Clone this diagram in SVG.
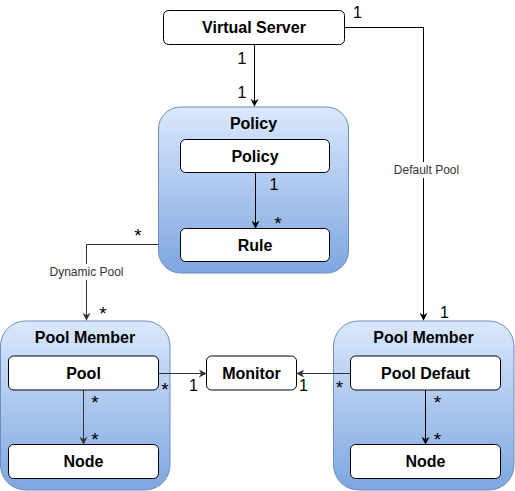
<svg xmlns="http://www.w3.org/2000/svg" width="515" height="491" viewBox="0 0 515 491">
<defs>
<linearGradient id="blue" x1="0" y1="0" x2="0" y2="1">
<stop offset="0" stop-color="#dae8fc"/>
<stop offset="1" stop-color="#7ea6e0"/>
</linearGradient>
<marker id="arrB" viewBox="0 0 10 10" refX="9" refY="5" markerWidth="8" markerHeight="8" markerUnits="userSpaceOnUse" orient="auto">
<path d="M0,0 L10,5 L0,10 L3,5 z" fill="#000"/>
</marker>
<marker id="arrG" viewBox="0 0 10 10" refX="9" refY="5" markerWidth="8" markerHeight="8" markerUnits="userSpaceOnUse" orient="auto">
<path d="M0,0 L10,5 L0,10 L3,5 z" fill="#333"/>
</marker>
</defs>
<style>
.cont{fill:url(#blue);stroke:#6c8ebf;stroke-width:1}
.box{fill:#fff;stroke:#000;stroke-width:1}
.t{font-family:"Liberation Sans",Arial,sans-serif;font-size:16px;font-weight:bold;fill:#000;text-anchor:middle;dominant-baseline:central}
.m{font-family:"Liberation Sans",Arial,sans-serif;font-size:16px;fill:#000;text-anchor:middle}
.s{font-family:"Liberation Sans",Arial,sans-serif;font-size:19px;fill:#000;text-anchor:middle}
.lbl{font-family:"Liberation Sans",Arial,sans-serif;font-size:12px;fill:#333;text-anchor:middle;dominant-baseline:central}
.lk{fill:none;stroke:#000;stroke-width:1}
.lg{fill:none;stroke:#333;stroke-width:1}
</style>
<g id="virtual-server">
<rect class="box" x="163.5" y="10.5" width="181" height="34" rx="5"/>
<text class="t" x="254" y="27.5">Virtual Server</text>
</g>
<g id="policy-container">
<rect class="cont" x="158.5" y="107" width="190" height="166" rx="22"/>
<text class="t" x="253.5" y="123.5">Policy</text>
</g>
<g id="policy">
<rect class="box" x="180.5" y="139.5" width="149" height="33" rx="5"/>
<text class="t" x="255" y="156">Policy</text>
</g>
<g id="rule">
<rect class="box" x="180.5" y="228.5" width="149" height="33" rx="5"/>
<text class="t" x="255" y="245">Rule</text>
</g>
<g id="pool-member-left">
<rect class="cont" x="0.5" y="321" width="169.5" height="169" rx="25"/>
<text class="t" x="85" y="337">Pool Member</text>
</g>
<g id="pool">
<rect class="box" x="8.5" y="356" width="150" height="34" rx="5"/>
<text class="t" x="83.5" y="373">Pool</text>
</g>
<g id="node-left">
<rect class="box" x="8.5" y="444.5" width="150" height="34" rx="5"/>
<text class="t" x="83.5" y="461.5">Node</text>
</g>
<g id="monitor">
<rect class="box" x="206.5" y="356" width="90" height="34" rx="5"/>
<text class="t" x="251.5" y="373">Monitor</text>
</g>
<g id="pool-member-right">
<rect class="cont" x="333.5" y="321" width="180.5" height="169" rx="25"/>
<text class="t" x="423.5" y="337">Pool Member</text>
</g>
<g id="pool-defaut">
<rect class="box" x="350.5" y="356" width="150" height="34" rx="5"/>
<text class="t" x="425.5" y="373">Pool Defaut</text>
</g>
<g id="node-right">
<rect class="box" x="350.5" y="444.5" width="150" height="34" rx="5"/>
<text class="t" x="425.5" y="461.5">Node</text>
</g>
<g id="connectors">
<path class="lk" d="M254.5,44.5 V106" marker-end="url(#arrB)"/>
<path class="lk" d="M344.5,27.5 H423.5 V320" marker-end="url(#arrB)"/>
<path class="lk" d="M255.5,172.5 V228" marker-end="url(#arrB)"/>
<path class="lg" d="M158.5,244.5 H86.5 V320" marker-end="url(#arrG)"/>
<path class="lg" d="M158.5,373.5 H206" marker-end="url(#arrG)"/>
<path class="lg" d="M350.5,373.5 H297" marker-end="url(#arrG)"/>
<path class="lg" d="M83.5,390 V444" marker-end="url(#arrG)"/>
<path class="lk" d="M425.5,390 V444" marker-end="url(#arrB)"/>
<rect x="392" y="162" width="70" height="16" fill="#fff"/>
<text class="lbl" x="426.5" y="170">Default Pool</text>
<rect x="50" y="264" width="73" height="16" fill="#fff"/>
<text class="lbl" x="86.5" y="272">Dynamic Pool</text>
<text class="m" x="357.5" y="18">1</text>
<text class="m" x="242" y="63.5">1</text>
<text class="m" x="242" y="98">1</text>
<text class="m" x="274" y="190">1</text>
<text class="s" x="278" y="229.5">*</text>
<text class="s" x="138" y="241.5">*</text>
<text class="s" x="103" y="319.5">*</text>
<text class="m" x="444.5" y="318">1</text>
<text class="s" x="165" y="395.5">*</text>
<text class="m" x="193.5" y="391">1</text>
<text class="m" x="303.5" y="391">1</text>
<text class="s" x="339.5" y="393.5">*</text>
<text class="s" x="95" y="408.5">*</text>
<text class="s" x="95" y="445.5">*</text>
<text class="s" x="437.5" y="408.5">*</text>
<text class="s" x="437.5" y="445.5">*</text>
</g>
</svg>
